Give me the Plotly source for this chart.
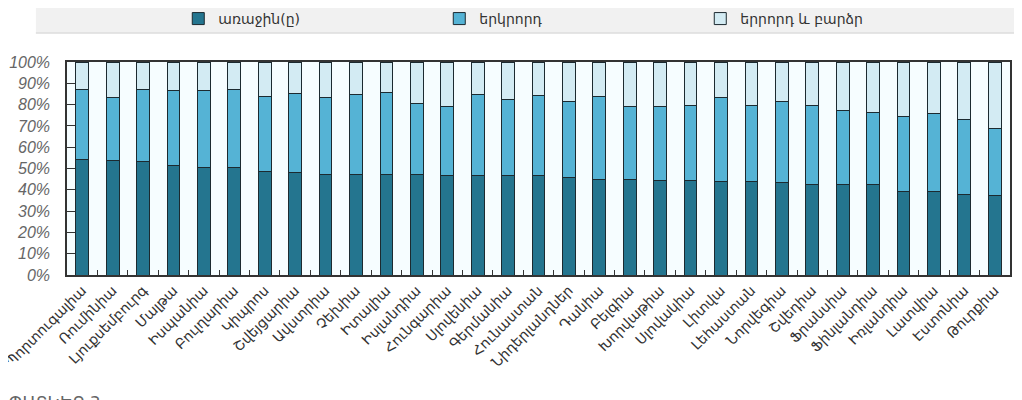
import plotly.graph_objects as go

categories = ["Պորտուգալիա", "Ռումինիա", "Լյուքսեմբուրգ", "Մալթա", "Իսպանիա", "Բուլղարիա",
              "Կիպրոս", "Շվեյցարիա", "Ավստրիա", "Չեխիա", "Իտալիա", "Իսլանդիա", "Հունգարիա",
              "Սլովենիա", "Գերմանիա", "Հունաստան", "Նիդերլանդներ", "Դանիա", "Բելգիա",
              "Խորվաթիա", "Սլովակիա", "Լիտվա", "Լեհաստան", "Նորվեգիա", "Շվեդիա", "Ֆրանսիա",
              "Ֆինլանդիա", "Իռլանդիա", "Լատվիա", "Էստոնիա", "Թուրքիա"]

first = [54.0, 53.8, 53.2, 51.3, 50.4, 50.4, 48.8, 48.2, 47.4, 47.4, 47.4, 47.4, 46.5, 46.5,
         46.5, 46.5, 45.7, 44.9, 44.9, 44.6, 44.6, 44.0, 44.0, 43.2, 42.3, 42.3, 42.3, 39.0,
         39.0, 38.0, 37.2]
second = [33.3, 29.4, 34.0, 35.2, 36.0, 36.8, 35.2, 36.8, 35.8, 37.4, 38.4, 33.2, 32.5, 38.3,
          36.0, 38.0, 35.8, 39.0, 34.1, 34.4, 35.0, 39.2, 35.6, 38.3, 37.3, 35.0, 34.2, 35.2,
          36.6, 35.2, 31.8]
third = [12.7, 16.8, 12.8, 13.5, 13.6, 12.8, 16.0, 15.0, 16.8, 15.2, 14.2, 19.4, 21.0, 15.2,
         17.5, 15.5, 18.5, 16.1, 21.0, 21.0, 20.4, 16.8, 20.4, 18.5, 20.4, 22.7, 23.5, 25.8,
         24.4, 26.8, 31.0]

series_names = ["առաջին(ը)", "երկրորդ", "երրորդ և բարձր"]
colors = ["#24758f", "#55b3d5", "#d3ebf3"]
y_ticks = [0, 10, 20, 30, 40, 50, 60, 70, 80, 90, 100]
y_labels = [f"{v}%" for v in y_ticks]
caption = "ՊԱՏԿԵՐ 3"

fig = go.Figure()
for name, vals, col in zip(series_names, [first, second, third], colors):
    fig.add_trace(go.Bar(x=categories, y=vals, name=name,
                         marker=dict(color=col, line=dict(color="#1c2a30", width=1))))

fig.update_layout(
    barmode="stack",
    bargap=0.58,
    width=1022, height=400,
    margin=dict(l=59, r=20, t=54, b=133, autoexpand=False),
    paper_bgcolor="white",
    plot_bgcolor="#f6fdff",
    font=dict(family="DejaVu Sans", color="#333333"),
    showlegend=True,
    legend=dict(orientation="h", x=0.118, xanchor="left", y=1.202, yanchor="middle",
                bgcolor="rgba(0,0,0,0)", font=dict(size=14, color="#333333", family="DejaVu Sans"),
                entrywidth=216, entrywidthmode="pixels", traceorder="normal"),
    shapes=[
        dict(type="rect", xref="paper", yref="paper", x0=-0.033, x1=1.03, y0=1.136, y1=1.3,
             fillcolor="#f1f1f1", line=dict(width=0), layer="below"),
        dict(type="line", xref="paper", yref="paper", x0=-0.033, x1=1.03, y0=1.136, y1=1.136,
             line=dict(color="#dddddd", width=1.5)),
    ],
    annotations=[
        dict(text=caption, xref="paper", yref="paper", x=-0.064, y=-0.545, xanchor="left",
             yanchor="top", showarrow=False, font=dict(size=17, color="#666666", family="DejaVu Sans")),
    ],
)

fig.update_xaxes(
    showline=True, linecolor="#333333", linewidth=1.5, mirror=True,
    ticks="inside", tickson="boundaries", ticklen=5, tickcolor="#333333",
    tickangle=-45, tickfont=dict(size=14, color="#333333", family="DejaVu Sans"),
    showgrid=False, automargin=False,
)
fig.update_yaxes(
    range=[0, 100], tickvals=y_ticks, ticktext=y_labels,
    showline=True, linecolor="#333333", linewidth=1.5, mirror=True,
    ticks="inside", ticklen=8, tickcolor="#333333",
    tickfont=dict(size=16, color="#666666", family="Liberation Sans", style="italic"),
    ticklabelstandoff=12,
    showgrid=False, zeroline=False, automargin=False,
)

fig.write_html("out.html")
